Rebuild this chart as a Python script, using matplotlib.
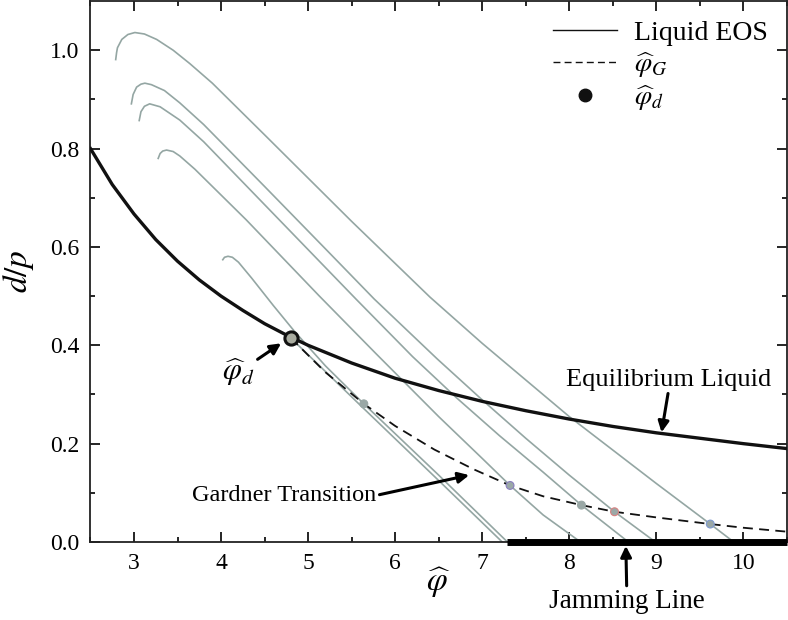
import matplotlib
matplotlib.use("Agg")
import matplotlib.pyplot as plt
from matplotlib.lines import Line2D
import numpy as np

plt.rcParams.update({
    'font.family': ['Liberation Serif', 'DejaVu Serif'],
    'mathtext.fontset': 'stix',
    'font.size': 17,
})

# equilibrium liquid EOS
liq_x = [2.5, 2.75, 3.0, 3.25, 3.5, 3.75, 4.0, 4.25, 4.5, 4.75, 5.0, 5.5, 6.0, 6.5,
         7.0, 7.5, 8.0, 8.5, 9.0, 9.5, 10.0, 10.5]
liq_y = [0.800, 0.727, 0.667, 0.615, 0.571, 0.533, 0.500, 0.471, 0.444, 0.421, 0.400,
         0.364, 0.333, 0.308, 0.286, 0.267, 0.250, 0.235, 0.222, 0.211, 0.200, 0.190]

# glass state-following curves (gray)
glass_curves = [
    ([2.79, 2.80, 2.81, 2.86, 2.93, 3.01, 3.12, 3.26, 3.45, 3.64, 3.9, 4.5, 5.5, 6.4,
      7.0, 8.0, 9.0, 9.62, 9.89],
     [0.981, 0.995, 1.005, 1.022, 1.032, 1.036, 1.033, 1.022, 1.000, 0.973, 0.933,
      0.828, 0.652, 0.498, 0.404, 0.255, 0.119, 0.0365, 0.0]),
    ([2.97, 2.99, 3.03, 3.08, 3.125, 3.2, 3.35, 3.526, 3.8, 4.5, 5.2, 5.76, 6.485,
      7.0, 7.5, 8.0, 8.52, 8.99],
     [0.891, 0.910, 0.925, 0.931, 0.933, 0.930, 0.918, 0.893, 0.849, 0.723, 0.596,
      0.494, 0.372, 0.289, 0.211, 0.136, 0.0615, 0.0]),
    ([3.06, 3.08, 3.12, 3.18, 3.3, 3.526, 3.8, 4.5, 5.55, 6.2, 6.7, 7.2, 7.7, 8.14, 8.68],
     [0.857, 0.875, 0.886, 0.891, 0.885, 0.858, 0.814, 0.686, 0.494, 0.377, 0.294,
      0.216, 0.142, 0.075, 0.0]),
    ([3.278, 3.30, 3.33, 3.374, 3.45, 3.526, 3.7, 4.29, 5.13, 5.78, 6.5, 7.0, 7.32, 7.7, 8.13],
     [0.780, 0.790, 0.795, 0.797, 0.794, 0.785, 0.758, 0.655, 0.500, 0.383, 0.255,
      0.170, 0.115, 0.055, 0.0]),
    ([4.02, 4.04, 4.08, 4.13, 4.2, 4.35, 4.6, 4.85, 5.2, 5.64, 6.5, 7.29],
     [0.574, 0.579, 0.581, 0.579, 0.569, 0.537, 0.481, 0.427, 0.358, 0.281, 0.136, 0.0]),
    ([4.80, 5.6, 6.5, 7.23],
     [0.415, 0.278, 0.125, 0.0]),
]

# Gardner transition line
gard_x = [4.80, 5.2, 5.64, 6.0, 6.45, 6.9, 7.32, 7.7, 8.14, 8.52, 9.0, 9.62, 10.0, 10.5]
gard_y = [0.415, 0.345, 0.281, 0.236, 0.188, 0.148, 0.115, 0.093, 0.075, 0.0615,
          0.050, 0.0365, 0.029, 0.021]

# Gardner points on the glass curves
gpt_x = [5.64, 7.32, 8.14, 8.52, 9.62]
gpt_y = [0.281, 0.115, 0.075, 0.0615, 0.0365]
gpt_edge = ['#9aa8a6', '#8a7fc0', '#9aa8a6', '#d98080', '#7f9ad0']

# dynamical transition point
phid_x, phid_y = 4.80, 0.415

# jamming line
jam_x = [7.29, 10.5]
jam_y = [0.0, 0.0]

GRAY = '#94a6a3'

fig = plt.figure(figsize=(7.88, 6.2), dpi=100)
ax = fig.add_axes([0.1148, 0.1258, 0.8838, 0.8725])

for cx, cy in glass_curves:
    ax.plot(cx, cy, color=GRAY, lw=1.2, zorder=2)

ax.plot(liq_x, liq_y, color='#111111', lw=2.4, zorder=3)
ax.plot(gard_x, gard_y, color='#111111', lw=1.3, ls=(0, (5.5, 3.5)), zorder=3)
ax.scatter(gpt_x, gpt_y, s=32, c='#9aa8a6', edgecolors=gpt_edge, linewidths=0.8, zorder=4)
ax.scatter([phid_x], [phid_y], s=90, c='#a9aca0', edgecolors='#111111', linewidths=2.2, zorder=5)
ax.plot(jam_x, jam_y, color='black', lw=5, solid_capstyle='butt', clip_on=False, zorder=6)

ax.set_xlim(2.5, 10.5)
ax.set_ylim(0, 1.1)
ax.set_xticks(np.arange(3, 11, 1))
ax.set_xticks(np.arange(2.5, 10.6, 0.5), minor=True)
ax.set_yticks(np.arange(0, 1.01, 0.2))
ax.set_yticks(np.arange(0.1, 1.1, 0.2), minor=True)
ax.set_yticklabels([f'{v:.1f}' for v in np.arange(0, 1.01, 0.2)])
ax.tick_params(which='both', direction='in', top=True, right=True, labelsize=17, pad=8)
ax.tick_params(which='major', length=7, width=1.2)
ax.tick_params(which='minor', length=3.5, width=1.2)
for s in ax.spines.values():
    s.set_linewidth(1.3)
    s.set_color('#222222')

ax.set_xlabel(r'$\widehat{\varphi}$', fontsize=24, labelpad=-6)
ax.set_ylabel(r'$d/p$', fontsize=24)
ax.yaxis.set_label_coords(-0.078, 0.5)

# annotations
arrow = dict(arrowstyle='-|>', color='black', lw=2.2, mutation_scale=16, shrinkA=0, shrinkB=0)
ax.annotate(r'$\widehat{\varphi}_d$', xy=(4.69, 0.404), xytext=(4.20, 0.345),
            fontsize=22, ha='center', va='center', arrowprops=arrow)
ax.annotate('Equilibrium Liquid', xy=(9.06, 0.223), xytext=(9.14, 0.33),
            fontsize=19, ha='center', va='center',
            arrowprops=dict(arrow, relpos=(0.5, 0.0)))
ax.annotate('Gardner Transition', xy=(6.85, 0.136), xytext=(4.73, 0.095),
            fontsize=17.5, ha='center', va='center',
            arrowprops=dict(arrow, relpos=(1.0, 0.5)))
ax.annotate('Jamming Line', xy=(8.65, -0.008), xytext=(8.66, -0.12),
            fontsize=19.5, ha='center', va='center',
            annotation_clip=False,
            arrowprops=dict(arrow, relpos=(0.5, 1.0)))

handles = [
    Line2D([], [], color='#111111', lw=1.0),
    Line2D([], [], color='#111111', lw=1.0, ls=(0, (5, 3))),
    Line2D([], [], color='#111111', ls='none', marker='o', markersize=9),
]
labels = ['Liquid EOS', r'$\widehat{\varphi}_G$', r'$\widehat{\varphi}_d$']
ax.legend(handles, labels, loc='upper right', frameon=False, fontsize=20,
          handlelength=2.3, handletextpad=0.6, labelspacing=0.15,
          borderaxespad=0.3)

fig.savefig('out.png', dpi=100)
